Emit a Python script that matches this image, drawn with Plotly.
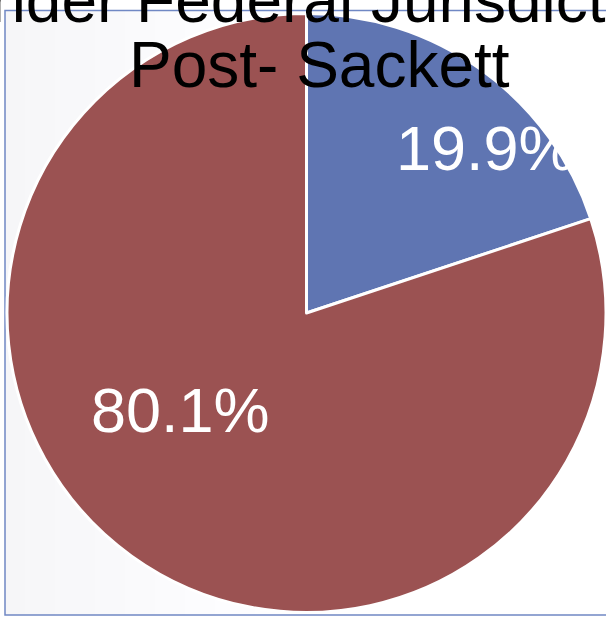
import math
import plotly.graph_objects as go

labels = ["Under Federal Jurisdiction", "Not Under Federal Jurisdiction"]
values = [19.9, 80.1]
colors = ["#5f75b2", "#9b5252"]
title_line1 = "Under Federal Jurisdiction"
title_line2 = "Post- Sackett"

W, H = 606, 617
FONT = "Arial, 'Liberation Sans', sans-serif"

# pie domain (paper fractions)
dom_x = [7 / W, 1.0]
dom_y = [2 / H, 606 / H]

fig = go.Figure()
fig.add_trace(go.Pie(
    labels=labels,
    values=values,
    sort=False,
    direction="clockwise",
    rotation=0,
    marker=dict(colors=colors, line=dict(color="white", width=3)),
    textinfo="none",
    showlegend=False,
    hoverinfo="label+percent",
    domain=dict(x=dom_x, y=dom_y),
))

# data labels placed from the slice angles (Excel-like best-fit placement)
label_radius_frac = [0.815, 0.53]
label_angle_offset = [11.5, 16.6]
cx = (dom_x[0] + dom_x[1]) / 2 * W
cy = H - (dom_y[0] + dom_y[1]) / 2 * H
R = min((dom_x[1] - dom_x[0]) * W, (dom_y[1] - dom_y[0]) * H) / 2
total = sum(values)
cum = 0.0
for i, v in enumerate(values):
    mid = (cum + v / 2) / total * 360.0
    cum += v
    a = math.radians(mid + label_angle_offset[i])
    px = cx + R * label_radius_frac[i] * math.sin(a)
    py = cy - R * label_radius_frac[i] * math.cos(a)
    fig.add_annotation(text=f"{v / total * 100:.1f}%", xref="paper", yref="paper",
                       x=px / W, y=1 - py / H, xanchor="center", yanchor="middle",
                       showarrow=False, font=dict(family=FONT, size=63, color="white"))

fig.add_annotation(text=title_line1, xref="paper", yref="paper",
                   x=-58 / W, y=(H + 0) / H, xanchor="left", yanchor="middle",
                   showarrow=False, font=dict(family=FONT, size=64, color="black"))
fig.add_annotation(text=title_line2, xref="paper", yref="paper",
                   x=319 / W, y=(H - 65.5) / H, xanchor="center", yanchor="middle",
                   showarrow=False, font=dict(family=FONT, size=64, color="black"))

# very subtle light-grey to white background gradient of the chart area
n_bands = 30
for k in range(n_bands):
    g = 246 + round(9 * k / (n_bands - 1))
    fig.add_shape(type="rect", xref="paper", yref="paper",
                  x0=(5 + k * 10) / W, x1=(5 + (k + 1) * 10) / W,
                  y0=2 / H, y1=(H - 10.5) / H,
                  line=dict(width=0), fillcolor=f"rgb({g},{g},{min(255, g + 2)})", layer="below")

fig.add_shape(type="rect", xref="paper", yref="paper",
              x0=5 / W, x1=1.2, y0=2 / H, y1=(H - 10.5) / H,
              line=dict(color="#7088c4", width=1.5), fillcolor="rgba(0,0,0,0)", layer="below")

fig.update_layout(
    width=W, height=H,
    margin=dict(l=0, r=0, t=0, b=0),
    paper_bgcolor="white",
    plot_bgcolor="white",
)

fig.write_html("out.html")
